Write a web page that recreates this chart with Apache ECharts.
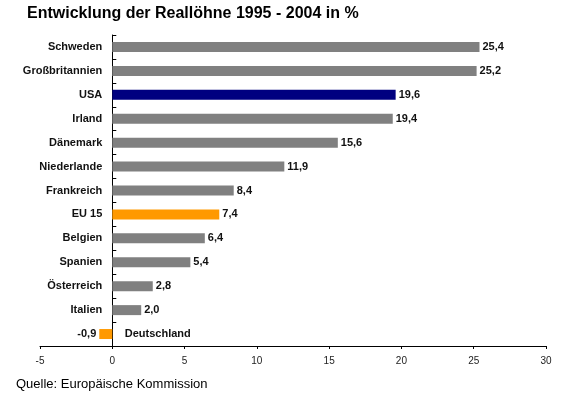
<!DOCTYPE html>
<html><head><meta charset="utf-8">
<script src="https://cdn.jsdelivr.net/npm/echarts@6/dist/echarts.min.js"></script>
<style>html,body{margin:0;padding:0;background:#fff}#c{width:561px;height:399px}</style>
</head><body><div id="c"></div>
<script>
const categories = ["Schweden","Großbritannien","USA","Irland","Dänemark","Niederlande","Frankreich","EU 15","Belgien","Spanien","Österreich","Italien","Deutschland"];
const values = [25.4,25.2,19.6,19.4,15.6,11.9,8.4,7.4,6.4,5.4,2.8,2.0,-0.9];
const highlightNavy = ["USA"];
const highlightOrange = ["EU 15","Deutschland"];
const insideLabelCats = ["Deutschland"];
const xTicks = [-5,0,5,10,15,20,25,30];
const titleText = "Entwicklung der Reallöhne 1995 - 2004 in %";
const sourceText = "Quelle: Europäische Kommission";

const fmt = v => v.toFixed(1).replace('.', ',');
const chart = echarts.init(document.getElementById('c'));
const cats = categories.slice().reverse();
const vals = values.slice().reverse();
const gridLeft = 40, gridRight = 15, W = 561;
const xMin = xTicks[0], xMax = xTicks[xTicks.length-1];
const zeroOffset = (0 - xMin) / (xMax - xMin) * (W - gridLeft - gridRight);
chart.setOption({
  animation: false,
  backgroundColor: '#fff',
  title: [
    {text: titleText, left: 22, top: 1, textStyle: {fontFamily: 'Liberation Sans, Arial', fontWeight: 'bold', fontSize: 16, color: '#000'}},
    {text: sourceText, left: 11, top: 373, textStyle: {fontFamily: 'Liberation Sans, Arial', fontWeight: 'normal', fontSize: 13, color: '#000'}}
  ],
  grid: {left: gridLeft, right: gridRight, top: 35, bottom: 53, containLabel: false, outerBoundsMode: 'none'},
  xAxis: {
    type: 'value', min: xMin, max: xMax, interval: 5,
    splitLine: {show: false},
    axisLine: {show: true, onZero: false, lineStyle: {color: '#000', width: 1}},
    axisTick: {show: true, inside: false, length: 3, lineStyle: {color: '#000'}},
    axisLabel: {fontFamily: 'Liberation Sans, Arial', fontSize: 10, color: '#222', margin: 10}
  },
  yAxis: {
    type: 'category', data: cats, offset: -zeroOffset,
    axisLine: {show: true, onZero: false, lineStyle: {color: '#000', width: 1}},
    axisTick: {show: true, inside: true, length: 4, lineStyle: {color: '#000'}},
    axisLabel: {
      fontFamily: 'Liberation Sans, Arial', fontWeight: 'bold', fontSize: 11, color: '#111', margin: 10,
      formatter: v => insideLabelCats.includes(v) ? '' : v
    }
  },
  series: [
    {
      type: 'bar', barWidth: 10,
      data: vals.map((v, i) => ({
        value: v,
        itemStyle: {color: highlightNavy.includes(cats[i]) ? '#000080' : (highlightOrange.includes(cats[i]) ? '#FF9900' : '#808080')},
        label: {position: v < 0 ? 'left' : 'right'}
      })),
      label: {show: true, distance: 3, fontFamily: 'Liberation Sans, Arial', fontWeight: 'bold', fontSize: 11, color: '#111', formatter: p => fmt(p.value)}
    },
    {
      type: 'scatter', symbolSize: 1, itemStyle: {opacity: 0},
      data: cats.map((c, i) => insideLabelCats.includes(c) ? [0, c] : null).filter(d => d),
      label: {show: true, position: 'right', distance: 12, opacity: 1, fontFamily: 'Liberation Sans, Arial', fontWeight: 'bold', fontSize: 11, color: '#111', formatter: p => p.value[1]}
    }
  ]
});
</script></body></html>
